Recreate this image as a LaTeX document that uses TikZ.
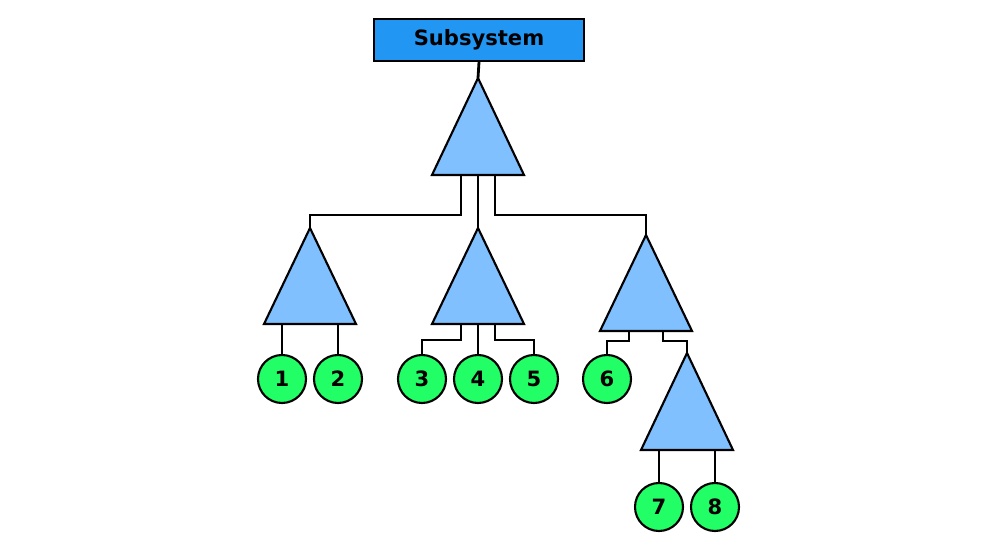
\documentclass[tikz,border=0pt]{standalone}
\usepackage{fontspec}
\setmainfont{DejaVu Sans}
\begin{document}
\begin{tikzpicture}[x=0.02cm,y=-0.02cm,
  tri/.style={fill=triblue,draw=black,line width=1.2pt,line join=miter},
  leaf/.style={circle,fill=leafgreen,draw=black,line width=1.2pt,minimum size=48*0.02cm,inner sep=0pt,font=\bfseries\large},
  wire/.style={draw=black,line width=1.6pt}]
\definecolor{triblue}{HTML}{80C0FF}
\definecolor{leafgreen}{HTML}{22FF66}
\definecolor{boxblue}{HTML}{2196F3}
\useasboundingbox (0,0) rectangle (1000,550);
% box
\node[draw=black,line width=1.2pt,fill=boxblue,minimum width=210*0.02cm,minimum height=42*0.02cm,font=\bfseries\large] (sub) at (479,40) {Subsystem};
% triangles
\coordinate (t0) at (478,78);
\coordinate (t1) at (310,228);
\coordinate (t2) at (478,228);
\coordinate (t3) at (646,235);
\coordinate (t4) at (687,353);
% leaves
\node[leaf] (n1) at (282,379) {1};
\node[leaf] (n2) at (338,379) {2};
\node[leaf] (n3) at (422,379) {3};
\node[leaf] (n4) at (478,379) {4};
\node[leaf] (n5) at (534,379) {5};
\node[leaf] (n6) at (607,379) {6};
\node[leaf] (n7) at (659,507) {7};
\node[leaf] (n8) at (715,507) {8};
% wires
\draw[wire] (sub.south) -- (t0);
\draw[wire] (461,175) -- (461,215) -| (t1);
\draw[wire] (478,175) -- (t2);
\draw[wire] (495,175) -- (495,215) -| (t3);
\draw[wire] (282,324) -- (n1.north);
\draw[wire] (338,324) -- (n2.north);
\draw[wire] (461,324) -- (461,340) -| (n3.north);
\draw[wire] (478,324) -- (n4.north);
\draw[wire] (495,324) -- (495,340) -| (n5.north);
\draw[wire] (629,331) -- (629,341) -| (n6.north);
\draw[wire] (663,331) -- (663,341) -| (t4);
\draw[wire] (659,450) -- (n7.north);
\draw[wire] (715,450) -- (n8.north);
% triangle shapes
\draw[tri] (t0) -- (432,175) -- (524,175) -- cycle;
\draw[tri] (t1) -- (264,324) -- (356,324) -- cycle;
\draw[tri] (t2) -- (432,324) -- (524,324) -- cycle;
\draw[tri] (t3) -- (600,331) -- (692,331) -- cycle;
\draw[tri] (t4) -- (641,450) -- (733,450) -- cycle;
\end{tikzpicture}
\end{document}
